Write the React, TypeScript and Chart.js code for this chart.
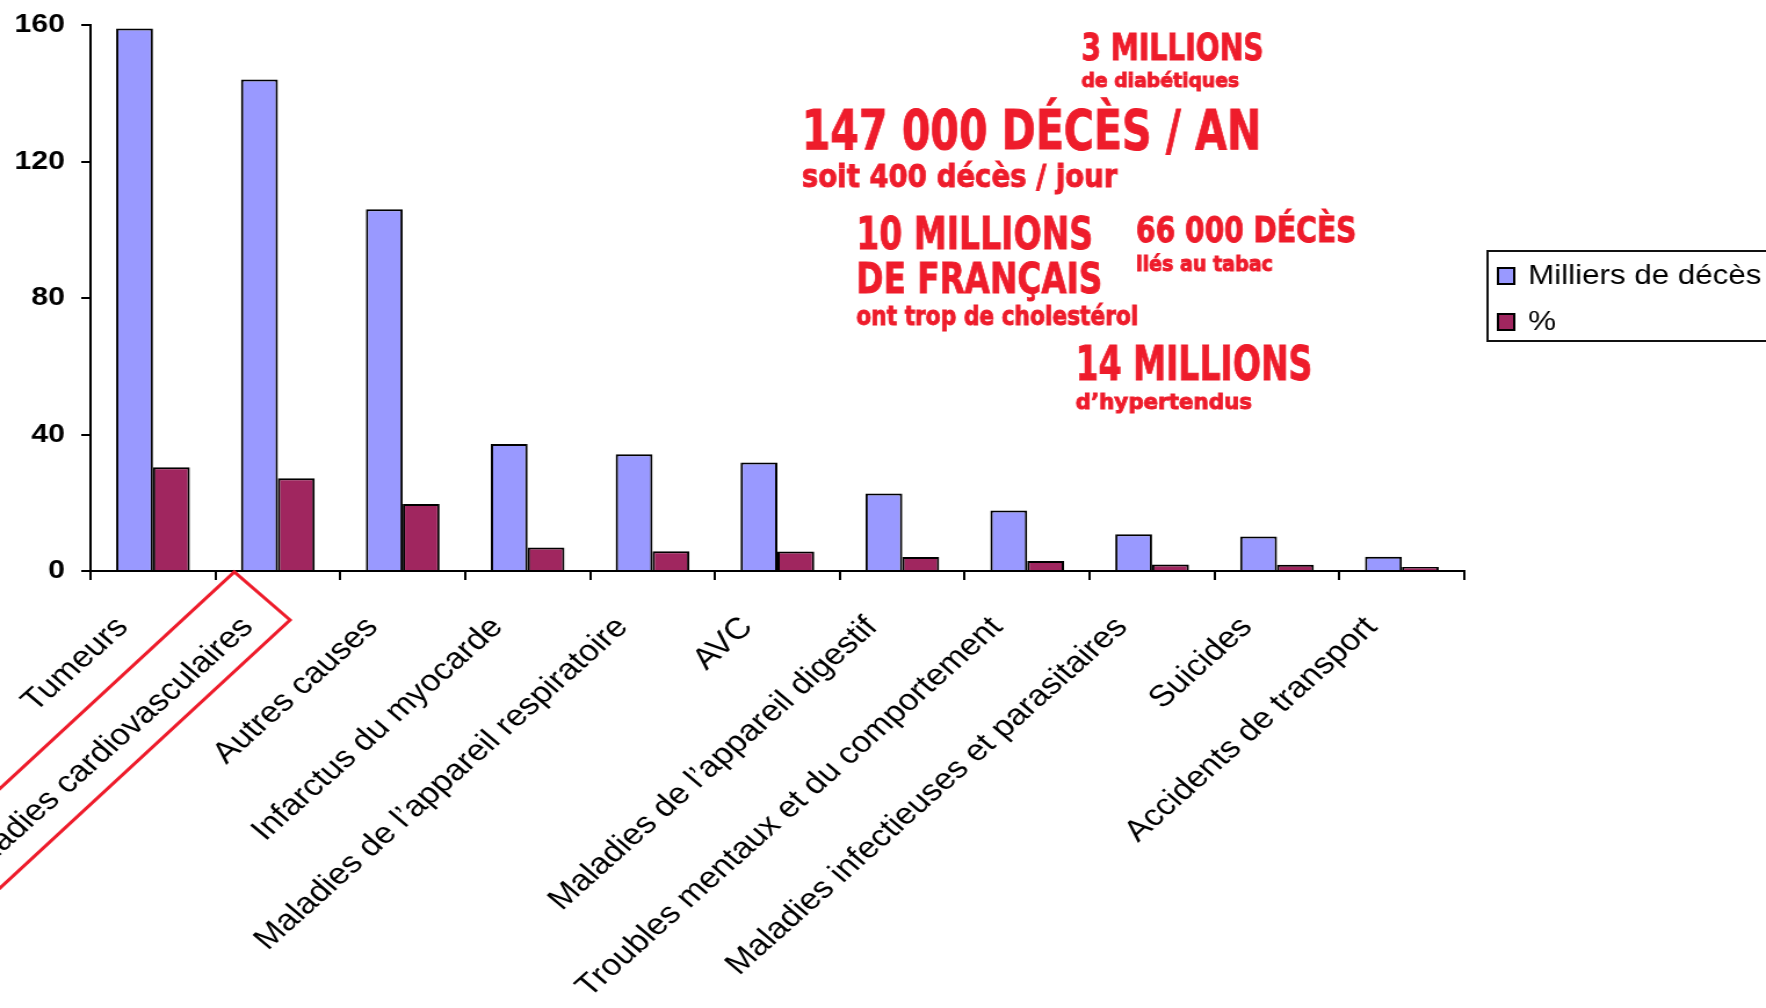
import { useEffect, useRef } from 'react';
import { Chart, registerables } from 'chart.js';

Chart.register(...registerables);

// ---------- data ----------
const categories = [
  'Tumeurs',
  'Maladies cardiovasculaires',
  'Autres causes',
  'Infarctus du myocarde',
  'Maladies de l’appareil respiratoire',
  'AVC',
  'Maladies de l’appareil digestif',
  'Troubles mentaux et du comportement',
  'Maladies infectieuses et parasitaires',
  'Suicides',
  'Accidents de transport',
];
const deathsThousands = [159, 144, 106, 37.2, 34.2, 31.8, 22.7, 17.7, 10.8, 10.1, 4.2];
const deathsPercent = [30.4, 27.2, 19.6, 6.9, 5.8, 5.7, 4.1, 2.9, 1.9, 1.8, 1.2];
const seriesLabels = ['Milliers de décès', '%'];
const yTicks = [0, 40, 80, 120, 160];
const highlightedIndex = 1;

// annotation texts (x in canvas units, baseline y, letter height, target width)
const annotations = [
  { text: '3 MILLIONS', x: 932, y: 60, h: 27, w: 157 },
  { text: 'de diabétiques', x: 932, y: 87, h: 15, w: 136 },
  { text: '147 000 DÉCÈS / AN', x: 691, y: 149, h: 41, w: 396 },
  { text: 'soit 400 décès / jour', x: 691, y: 187, h: 24, w: 272 },
  { text: '10 MILLIONS', x: 738, y: 249, h: 33, w: 204 },
  { text: 'DE FRANÇAIS', x: 738, y: 293, h: 32, w: 212 },
  { text: 'ont trop de cholestérol', x: 738, y: 325, h: 19, w: 243 },
  { text: '66 000 DÉCÈS', x: 979, y: 242, h: 26, w: 190 },
  { text: 'liés au tabac', x: 979, y: 271, h: 16, w: 118 },
  { text: '14 MILLIONS', x: 927, y: 380, h: 35, w: 204 },
  { text: 'd’hypertendus', x: 927, y: 409, h: 16, w: 152 },
];

// ---------- look ----------
const STRETCH = 1.16;
const CW = Math.round(1766 / STRETCH);
const CH = 1008;
const BLUE = '#9999FF';
const PLUM = '#A0265F';
const RED = '#EE1C2B';
const SANS = '"Liberation Sans", Arial, sans-serif';

const overlayPlugin = {
  id: 'overlay',
  afterDraw(chart: any) {
    const ctx = chart.ctx as CanvasRenderingContext2D;

    // red frame around highlighted category label
    const xs = chart.scales.x;
    const cx = xs.getPixelForTick(highlightedIndex);
    const ay = xs.top;
    const T = [cx - 37.5, ay + 1];
    const R = [cx + 10.5, ay + 49];
    const ang = (47 * Math.PI) / 180;
    const d = [-Math.cos(ang) * 1000, Math.sin(ang) * 1000];
    ctx.save();
    ctx.strokeStyle = RED;
    ctx.lineWidth = 3;
    ctx.lineJoin = 'miter';
    ctx.beginPath();
    ctx.moveTo(T[0] + d[0], T[1] + d[1]);
    ctx.lineTo(T[0], T[1]);
    ctx.lineTo(R[0], R[1]);
    ctx.lineTo(R[0] + d[0], R[1] + d[1]);
    ctx.stroke();
    ctx.restore();

    // red annotation texts
    ctx.save();
    ctx.fillStyle = RED;
    ctx.strokeStyle = RED;
    ctx.lineWidth = 1;
    ctx.textBaseline = 'alphabetic';
    ctx.textAlign = 'left';
    for (const a of annotations) {
      const size = a.h / 0.74;
      ctx.font = `bold ${size}px "DejaVu Sans", sans-serif`;
      const m = ctx.measureText(a.text).width;
      ctx.save();
      ctx.translate(a.x, a.y);
      ctx.scale(a.w / m, 1);
      ctx.fillText(a.text, 0, 0);
      ctx.strokeText(a.text, 0, 0);
      ctx.restore();
    }
    ctx.restore();

    // legend
    ctx.save();
    const lx = 1282;
    const ly = 251;
    ctx.fillStyle = '#fff';
    ctx.fillRect(lx, ly, 400, 90);
    ctx.strokeStyle = '#111';
    ctx.lineWidth = 2;
    ctx.strokeRect(lx, ly, 400, 90);
    const rows = [276, 322];
    chart.data.datasets.forEach((ds: any, i: number) => {
      const cy = rows[i];
      ctx.fillStyle = ds.backgroundColor;
      ctx.fillRect(lx + 9, cy - 8, 14, 16);
      ctx.strokeStyle = '#000';
      ctx.lineWidth = 2;
      ctx.strokeRect(lx + 9, cy - 8, 14, 16);
      ctx.fillStyle = '#000';
      ctx.font = `27px ${SANS}`;
      ctx.textBaseline = 'middle';
      ctx.fillText(ds.label, lx + 35, cy + 1);
    });
    ctx.restore();
  },
};

export default function App() {
  const ref = useRef<HTMLCanvasElement>(null);

  useEffect(() => {
    if (!ref.current) return;
    const chart = new Chart(ref.current, {
      type: 'bar',
      data: {
        labels: categories,
        datasets: [
          {
            label: seriesLabels[0],
            data: deathsThousands,
            backgroundColor: BLUE,
            borderColor: '#000',
            borderWidth: 2,
          },
          {
            label: seriesLabels[1],
            data: deathsPercent,
            backgroundColor: PLUM,
            borderColor: '#000',
            borderWidth: 2,
          },
        ],
      },
      options: {
        responsive: false,
        devicePixelRatio: 1,
        animation: false,
        layout: { padding: { left: 0, top: 25, right: CW - 1262, bottom: 0 } },
        plugins: {
          legend: { display: false },
          tooltip: { enabled: false },
        },
        datasets: {
          bar: { categoryPercentage: 0.59, barPercentage: 1 },
        },
        scales: {
          x: {
            grid: {
              display: true,
              drawOnChartArea: false,
              drawTicks: true,
              tickLength: 9,
              color: '#000',
              lineWidth: 2,
              offset: true,
            },
            border: { display: true, color: '#000', width: 2 },
            ticks: {
              autoSkip: false,
              minRotation: 46,
              maxRotation: 46,
              padding: 30,
              labelOffset: -26,
              color: '#000',
              font: { size: 30, family: SANS },
            },
            afterFit: (s: any) => {
              s.height = CH - 571;
            },
          },
          y: {
            min: 0,
            max: 160,
            grid: {
              display: true,
              drawOnChartArea: false,
              drawTicks: true,
              tickLength: 8,
              color: '#000',
              lineWidth: 2,
            },
            border: { display: true, color: '#000', width: 2 },
            ticks: {
              padding: 14,
              color: '#000',
              font: { size: 26, weight: 'bold', family: SANS },
            },
            afterBuildTicks: (s: any) => {
              s.ticks = yTicks.map((v) => ({ value: v }));
            },
            afterFit: (s: any) => {
              s.width = 78;
              s.paddingTop = 10;
              s.paddingBottom = 10;
            },
          },
        },
      },
      plugins: [overlayPlugin],
    });
    return () => chart.destroy();
  }, []);

  return (
    <div
      style={{
        position: 'fixed',
        left: 0,
        top: 0,
        width: 1766,
        height: 1008,
        overflow: 'hidden',
        background: '#fff',
      }}
    >
      <canvas
        ref={ref}
        width={CW}
        height={CH}
        style={{
          position: 'absolute',
          left: 0,
          top: 0,
          width: `${CW}px`,
          height: `${CH}px`,
          transform: `scaleX(${1766 / CW})`,
          transformOrigin: '0 0',
        }}
      />
    </div>
  );
}
